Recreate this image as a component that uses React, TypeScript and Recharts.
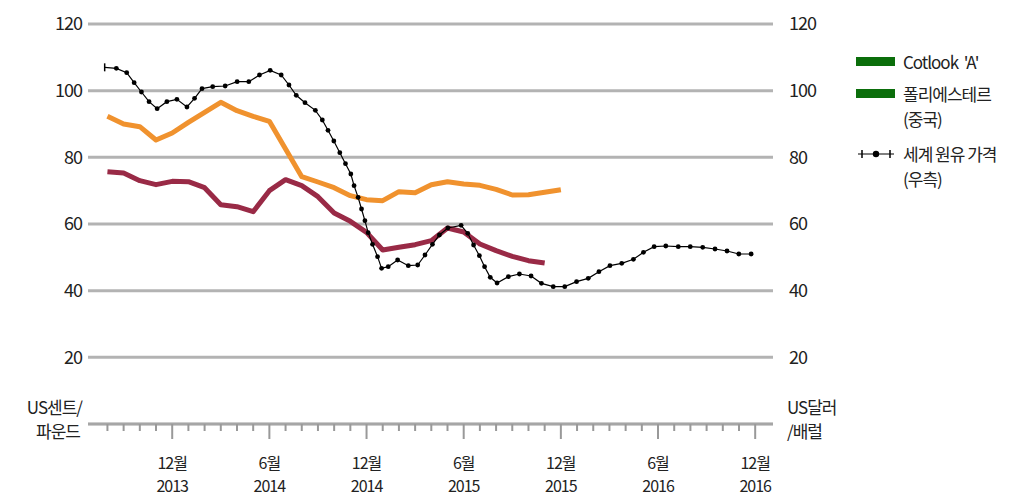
import { ComposedChart, Line, XAxis, YAxis, CartesianGrid, Legend } from 'recharts'

// months counted from Dec 2013 (= 0)
const cottonStart = -4
const cottonValues = [
  92.3, 90, 89.2, 85.2, 87.3, 90.5, 93.5, 96.5, 94, 92.3, 90.8, 82.5, 74.2, 72.6, 70.9,
  68.5, 67.3, 67, 69.7, 69.4, 71.8, 72.7, 72, 71.6, 70.4, 68.7, 68.8, 69.5, 70.3,
]
const polyStart = -4
const polyValues = [
  75.7, 75.3, 73, 71.8, 72.8, 72.7, 70.9, 65.8, 65.2, 63.7, 70, 73.3, 71.5, 68.2, 63.3,
  60.8, 57.5, 52.2, 53, 53.8, 55, 58.8, 57.6, 54, 52, 50.3, 49, 48.3,
]
const oilMonths = [
  -4.17, -3.45, -2.81, -2.35, -1.9, -1.43, -0.93, -0.33, 0.29, 0.91, 1.38, 1.84, 2.5, 3.27,
  4.01, 4.73, 5.39, 6.05, 6.73, 7.21, 7.66, 8.2, 8.84, 9.27, 9.62, 9.98, 10.35, 10.7, 11.03,
  11.23, 11.48, 11.69, 11.9, 12.1, 12.37, 12.68, 12.93, 13.34, 13.92, 14.58, 15.16, 15.61,
  16.07, 16.5, 17.02, 17.84, 18.25, 18.61, 18.97, 19.29, 19.64, 20.06, 20.76, 21.44, 22.16,
  22.8, 23.53, 24.24, 24.97, 25.69, 26.35, 27.03, 27.76, 28.48, 29.1, 29.76, 30.48, 31.25,
  31.99, 32.76, 33.52, 34.26, 34.99, 35.75,
]
const oilValues = [
  107, 106.7, 105.4, 102.4, 99.6, 96.7, 94.6, 96.7, 97.4, 95.1, 97.7, 100.6, 101.2, 101.4,
  102.7, 102.7, 104.7, 106.1, 104.7, 101.7, 98.6, 96.4, 94.1, 91.2, 88.1, 84.9, 81.4, 78.1, 75,
  71.5, 68, 64.5, 61, 57.4, 53.9, 50.2, 46.7, 47.2, 49.2, 47.5, 47.7, 50.7, 53.9, 56.7, 58.8,
  59.6, 57.2, 53.7, 50.5, 47.2, 44, 42.3, 44.2, 45, 44.4, 42.2, 41.2, 41.2, 42.7, 43.7, 45.7,
  47.5, 48.2, 49.4, 51.5, 53.2, 53.4, 53.2, 53.2, 53, 52.5, 51.9, 51, 51,
]

const yTicks = [20, 40, 60, 80, 100, 120]
const xMonthTicks = Array.from({ length: 41 }, (_, i) => i - 4)
const xLabelMonths = [0, 6, 12, 18, 24, 30, 36]
const xLabelTop = ['12월', '6월', '12월', '6월', '12월', '6월', '12월']
const xLabelBottom = ['2013', '2014', '2014', '2015', '2015', '2016', '2016']

const cottonData = cottonValues.map((v, i) => ({ m: cottonStart + i, v }))
const polyData = polyValues.map((v, i) => ({ m: polyStart + i, v }))
const oilData = oilMonths.map((m, i) => ({ m, v: oilValues[i] }))

const FONT = "'Noto Sans CJK KR', 'Noto Sans', sans-serif"
const ORANGE = '#F0922E'
const MAROON = '#992A46'
const GREEN = '#0B6E0B'

function MonthTick(props: any) {
  const { x, y, payload } = props
  const m = payload.value
  const idx = xLabelMonths.indexOf(m)
  const major = idx >= 0
  return (
    <g>
      <line x1={x} x2={x} y1={y} y2={y + (major ? 15 : 7)} stroke="#999" strokeWidth={2} />
      {major && (
        <>
          <text x={x} y={y + 45} textAnchor="middle" fontFamily={FONT} fontSize={16} fill="#222" letterSpacing={-1}>
            {xLabelTop[idx]}
          </text>
          <text x={x} y={y + 68} textAnchor="middle" fontFamily={FONT} fontSize={16} fill="#222" letterSpacing={-1}>
            {xLabelBottom[idx]}
          </text>
        </>
      )}
    </g>
  )
}

function OilDot(props: any) {
  const { cx, cy, index } = props
  if (index === 0) {
    return <line key={index} x1={cx} x2={cx} y1={cy - 4} y2={cy + 4} stroke="#000" strokeWidth={1.5} />
  }
  return <circle key={index} cx={cx} cy={cy} r={2.4} fill="#000" />
}

function LegendBox() {
  const text = { fontFamily: FONT, fontSize: 17, color: '#222', letterSpacing: -1, lineHeight: '25px' }
  return (
    <div style={{ position: 'relative', width: 160, height: 170 }}>
      <div style={{ position: 'absolute', left: 0, top: 5, width: 39, height: 9, background: GREEN }} />
      <div style={{ ...text, position: 'absolute', left: 47, top: -3 }}>Cotlook &nbsp;'A'</div>
      <div style={{ position: 'absolute', left: 0, top: 37, width: 39, height: 9, background: GREEN }} />
      <div style={{ ...text, position: 'absolute', left: 47, top: 29 }}>
        폴리에스테르
        <br />
        (중국)
      </div>
      <svg style={{ position: 'absolute', left: 0, top: 95 }} width={40} height={14}>
        <line x1={2} x2={38} y1={7} y2={7} stroke="#000" strokeWidth={1.2} />
        <line x1={6} x2={6} y1={3} y2={11} stroke="#000" strokeWidth={1.5} />
        <line x1={34} x2={34} y1={3} y2={11} stroke="#000" strokeWidth={1.5} />
        <circle cx={20} cy={7} r={3.2} fill="#000" />
      </svg>
      <div style={{ ...text, position: 'absolute', left: 47, top: 89 }}>
        세계 원유 가격
        <br />
        (우측)
      </div>
    </div>
  )
}

export default function App() {
  const tickStyle = { fontFamily: FONT, fontSize: 18, fill: '#222', letterSpacing: -1 }
  return (
    <div style={{ position: 'absolute', left: 0, top: 0, background: '#fff' }}>
      <ComposedChart width={1017} height={497} margin={{ top: 24, right: 0, left: 0, bottom: 0 }}>
        <CartesianGrid vertical={false} stroke="#b3b3b3" strokeWidth={3} yAxisId="left" />
        <XAxis
          dataKey="m"
          type="number"
          domain={[-5.2, 37.1]}
          allowDataOverflow
          ticks={xMonthTicks}
          interval={0}
          height={73}
          tickSize={0}
          tickMargin={0}
          tick={<MonthTick />}
          stroke="#a6a6a6"
          axisLine={{ stroke: '#a6a6a6', strokeWidth: 2.5 }}
        />
        <YAxis
          yAxisId="left"
          domain={[0, 120]}
          ticks={yTicks}
          width={88}
          tickSize={0}
          tickMargin={6}
          axisLine={false}
          tickLine={false}
          tick={tickStyle}
          label={{
            content: ({ viewBox }: any) => (
              <g>
                <text x={viewBox.x + viewBox.width - 6} y={viewBox.y + viewBox.height - 10} textAnchor="end" fontFamily={FONT} fontSize={17} fill="#222" letterSpacing={-1}>
                  US센트/
                </text>
                <text x={viewBox.x + viewBox.width - 8} y={viewBox.y + viewBox.height + 14} textAnchor="end" fontFamily={FONT} fontSize={17} fill="#222" letterSpacing={-1}>
                  파운드
                </text>
              </g>
            ),
          }}
        />
        <YAxis
          yAxisId="right"
          orientation="right"
          domain={[0, 120]}
          ticks={yTicks}
          width={244}
          tickSize={0}
          tickMargin={16}
          axisLine={false}
          tickLine={false}
          tick={{ ...tickStyle, textAnchor: 'start' }}
          label={{
            content: ({ viewBox }: any) => (
              <g>
                <text x={viewBox.x + 14} y={viewBox.y + viewBox.height - 10} textAnchor="start" fontFamily={FONT} fontSize={17} fill="#222" letterSpacing={-1}>
                  US달러
                </text>
                <text x={viewBox.x + 14} y={viewBox.y + viewBox.height + 14} textAnchor="start" fontFamily={FONT} fontSize={17} fill="#222" letterSpacing={-1}>
                  /배럴
                </text>
              </g>
            ),
          }}
        />
        <Legend
          layout="vertical"
          align="center"
          verticalAlign="middle"
          wrapperStyle={{ left: 856, top: 52, width: 161 }}
          content={() => <LegendBox />}
        />
        <Line
          yAxisId="left"
          data={cottonData}
          dataKey="v"
          name="Cotlook 'A'"
          stroke={ORANGE}
          strokeWidth={5}
          strokeLinejoin="round"
          dot={false}
          isAnimationActive={false}
        />
        <Line
          yAxisId="left"
          data={polyData}
          dataKey="v"
          name="폴리에스테르 (중국)"
          stroke={MAROON}
          strokeWidth={5}
          strokeLinejoin="round"
          dot={false}
          isAnimationActive={false}
        />
        <Line
          yAxisId="right"
          data={oilData}
          dataKey="v"
          name="세계 원유 가격 (우측)"
          stroke="#000"
          strokeWidth={1.2}
          dot={<OilDot />}
          isAnimationActive={false}
        />
      </ComposedChart>
    </div>
  )
}
